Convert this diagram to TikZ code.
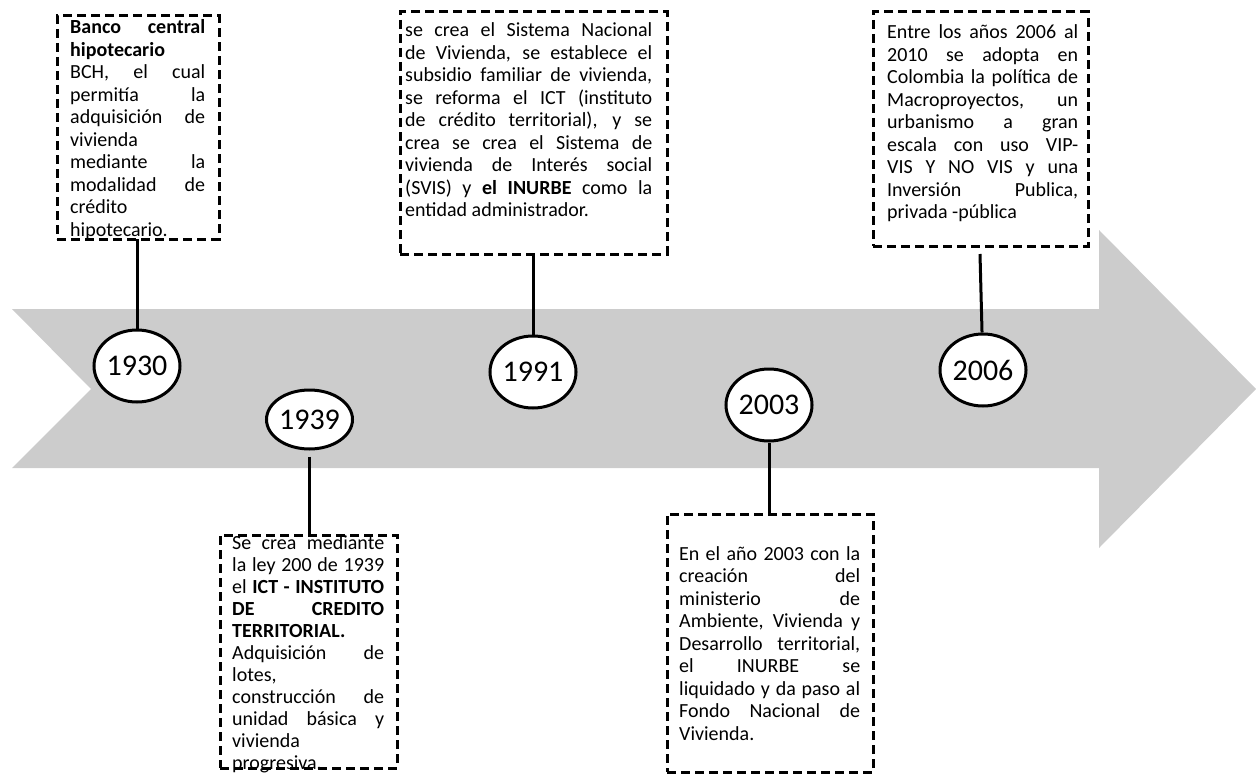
\documentclass[tikz,border=0pt]{standalone}
\usepackage{fontspec}
\setmainfont{Carlito}
\usetikzlibrary{shapes.geometric}
\definecolor{band}{HTML}{CCCCCC}
\tolerance=10000
\hbadness=10000
\hfuzz=3pt
\tikzset{year/.style={
    ellipse, draw, line width=3pt, fill=white,
    minimum width=72pt, inner sep=0pt,
    font=\fontsize{30}{32}\selectfont
  },
  infobox/.style={
    draw, dash pattern=on 9pt off 5pt, line width=3pt,
    inner sep=0pt, outer sep=0pt
  },
  infotext/.style={
    anchor=base west, inner sep=0pt, align=justify,
    font=\fontsize{20}{22.5}\selectfont
  },
  stem/.style={line width=3pt}
}

\begin{document}
\begin{tikzpicture}[x=1pt,y=-1pt]
  \useasboundingbox (0,0) rectangle (1256,776);
  \fill[band] (12,309) -- (1099,309) -- (1099,230) -- (1256,389) -- (1099,548)
    -- (1099,468) -- (12,468) -- (91,389) -- cycle;
  \foreach \yr/\px/\py/\h in {1930/137/366/72, 1939/309.5/419.5/59, 1991/533/372/72, 2003/769/405/72, 2006/983/370/72}
    \node[year, minimum height=\h pt] (c\yr) at (\px,\py) {\yr};
  \node[infotext, text width=135pt] (t1930) at (70,34) {\textbf{Banco central}\linebreak \textbf{hipotecario}\linebreak BCH, el cual\linebreak permitía la\linebreak adquisición de\linebreak vivienda\linebreak mediante la\linebreak modalidad de\linebreak crédito\linebreak hipotecario.};
  \node[infotext, text width=152pt, font=\fontsize{20}{22}\selectfont] (t1939) at (232,549) {Se crea mediante\linebreak la ley 200 de 1939\linebreak el \textbf{ICT - INSTITUTO}\linebreak \textbf{DE CREDITO}\linebreak \textbf{TERRITORIAL.}\linebreak Adquisición de\linebreak lotes,\linebreak construcción de\linebreak unidad básica y\linebreak vivienda\linebreak progresiva.};
  \node[infotext, text width=247pt] (t1991) at (405,37) {se crea el Sistema Nacional\linebreak de Vivienda, se establece el\linebreak subsidio familiar de vivienda,\linebreak se reforma el ICT (instituto\linebreak de crédito territorial), y se\linebreak crea se crea el Sistema de\linebreak vivienda de Interés social\linebreak (SVIS) y \textbf{el INURBE} como la\linebreak entidad administrador.};
  \node[infotext, text width=181pt] (t2003) at (679,560) {En el año 2003 con la\linebreak creación del\linebreak ministerio de\linebreak Ambiente, Vivienda y\linebreak Desarrollo territorial,\linebreak el INURBE se\linebreak liquidado y da paso al\linebreak Fondo Nacional de\linebreak Vivienda.};
  \node[infotext, text width=191pt] (t2006) at (887,39) {Entre los años 2006 al\linebreak 2010 se adopta en\linebreak Colombia la política de\linebreak Macroproyectos, un\linebreak urbanismo a gran\linebreak escala con uso VIP-\linebreak VIS Y NO VIS y una\linebreak Inversión Publica,\linebreak privada -pública};
  \node[infobox, minimum width=162pt, minimum height=223pt] (b1930) at (138,127.5) {};
  \node[infobox, minimum width=177pt, minimum height=233pt] (b1939) at (308.5,651.5) {};
  \node[infobox, minimum width=267pt, minimum height=242pt] (b1991) at (533.5,133) {};
  \node[infobox, minimum width=206pt, minimum height=258pt] (b2003) at (770,643) {};
  \node[infobox, minimum width=215pt, minimum height=234pt] (b2006) at (980.5,129) {};
  \coordinate (e2006) at (980,254);
  \draw[stem] (c1930) -- (c1930 |- b1930.south);
  \draw[stem, shorten <=6pt] (c1939) -- (c1939 |- b1939.north);
  \draw[stem] (c1991) -- (c1991 |- b1991.south);
  \draw[stem] (c2003) -- (c2003 |- b2003.north);
  \draw[stem] (c2006) -- (e2006);
\end{tikzpicture}
\end{document}
